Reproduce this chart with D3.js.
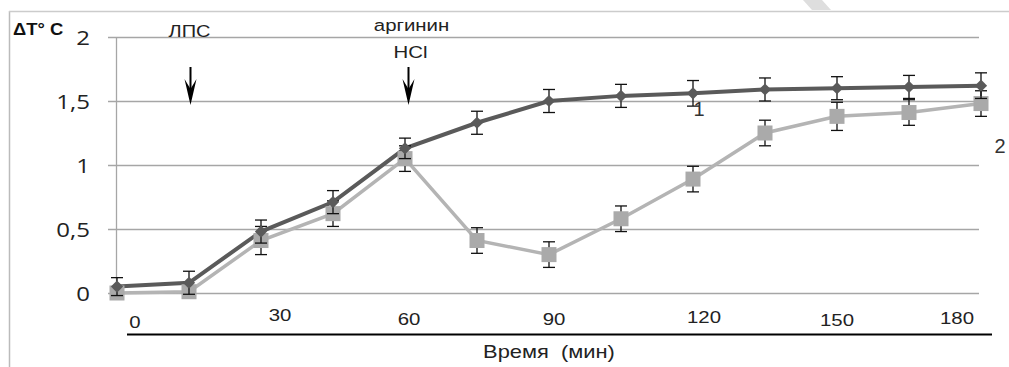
<!DOCTYPE html>
<html><head><meta charset="utf-8">
<script src="https://cdn.jsdelivr.net/npm/d3@7"></script>
<style>body{margin:0;background:#fff}svg{display:block}</style>
</head><body><svg id="c" width="1009" height="367"></svg>
<script>
const times = [0,15,30,45,60,75,90,105,120,135,150,165,180];
const series1 = [0.05,0.08,0.48,0.71,1.13,1.33,1.50,1.54,1.56,1.59,1.60,1.61,1.62];
const err1 =    [0.07,0.09,0.09,0.09,0.08,0.09,0.09,0.09,0.10,0.09,0.09,0.09,0.10];
const series2 = [0.00,0.01,0.41,0.62,1.05,0.41,0.30,0.58,0.89,1.25,1.38,1.41,1.48];
const err2 =    [0.00,0.00,0.11,0.10,0.10,0.10,0.10,0.10,0.10,0.10,0.11,0.10,0.10];
const yTicks = [0,0.5,1,1.5,2];
const yTickLabels = ["0","0,5","1","1,5","2"];
const xTickValues = [0,30,60,90,120,150,180];
const xTickLabels = ["0","30","60","90","120","150","180"];
const eventTimes = [15,60];
const eventLabels = [["ЛПС"],["аргинин","HCl"]];

const SX = 1.2; // horizontal stretch of the original picture's text
const FONT = "Liberation Sans, Arial, sans-serif";
const svg = d3.select("#c");
const x = d3.scaleLinear().domain([0,180]).range([117,981]);
const y = d3.scaleLinear().domain([0,2]).range([293,37]);

function sText(parent, px, py, txt, opts={}){
  const g = parent.append("g").attr("transform",`translate(${px},${py}) scale(${opts.sx||SX},1)`);
  return g.append("text").attr("x",0).attr("y",0)
    .attr("text-anchor",opts.anchor||"middle")
    .attr("font-family",opts.family||FONT)
    .attr("font-size",opts.size||18)
    .attr("font-weight",opts.weight||"normal")
    .attr("fill",opts.fill||"#222")
    .attr("xml:space","preserve")
    .text(txt);
}

// frame
svg.append("line").attr("x1",9.5).attr("x2",9.5).attr("y1",11).attr("y2",367).attr("stroke","#bbb").attr("stroke-width",1.5);
svg.append("line").attr("x1",9).attr("x2",1009).attr("y1",11.5).attr("y2",11.5).attr("stroke","#ccc").attr("stroke-width",1.5);
// faint watermark stroke
svg.append("path").attr("d","M803,0 L822,0 L831,10 L812,10 Z").attr("fill","#dedede");

// grid
const yAxis = d3.axisLeft(y).tickValues(yTicks).tickSize(-(979-116)).tickFormat(()=> "");
const gy = svg.append("g").attr("transform","translate(116,0)").call(yAxis);
gy.select(".domain").remove();
gy.selectAll(".tick text").remove();
gy.selectAll(".tick line").attr("stroke","#a6a6a6").attr("stroke-width",1.3).attr("x1",-8);
svg.append("line").attr("x1",116.5).attr("x2",116.5).attr("y1",y(2)).attr("y2",y(0)).attr("stroke","#a6a6a6").attr("stroke-width",1.3);
const gyl = svg.append("g");
yTicks.forEach((t,i)=>{
  sText(gyl, 90, y(t)+8, yTickLabels[i], {anchor:"end", family:"Open Sans, sans-serif", size:20, fill:"#222"});
});

// x labels
const nudgeX = [18,19,4,5,11,0,-24];
const nudgeY = [35,28,32,32,30,33,31];
const gxl = svg.append("g");
xTickValues.forEach((t,i)=>{
  sText(gxl, x(t)+nudgeX[i], y(0)+nudgeY[i], xTickLabels[i], {size:17});
});
svg.append("line").attr("x1",127).attr("x2",992).attr("y1",334.5).attr("y2",334.5).attr("stroke","#000").attr("stroke-width",2);
sText(svg, 549, 358, "Время  (мин)", {size:17.5, sx:1.25});

// y title
sText(svg, 13, 35, "ΔT° C", {anchor:"start", size:16, weight:"bold", fill:"#111", sx:1.15});

// lines
const line = d3.line().x((d,i)=>x(times[i])).y(d=>y(d));
svg.append("path").attr("d",line(series2)).attr("fill","none").attr("stroke","#b4b4b4").attr("stroke-width",3.5);
svg.append("path").attr("d",line(series1)).attr("fill","none").attr("stroke","#5a5a5a").attr("stroke-width",4);

// error bars
function errBars(vals, errs){
  const g = svg.append("g").attr("stroke","#111").attr("stroke-width",1.3);
  vals.forEach((v,i)=>{
    if(!errs[i]) return;
    const cx = x(times[i]);
    g.append("line").attr("x1",cx).attr("x2",cx).attr("y1",y(v+errs[i])).attr("y2",y(v-errs[i]));
    g.append("line").attr("x1",cx-6).attr("x2",cx+6).attr("y1",y(v+errs[i])).attr("y2",y(v+errs[i]));
    g.append("line").attr("x1",cx-6).attr("x2",cx+6).attr("y1",y(v-errs[i])).attr("y2",y(v-errs[i]));
  });
}
errBars(series2, err2);
svg.append("g").selectAll("rect").data(series2).join("rect")
  .attr("x",(d,i)=>x(times[i])-7.5).attr("y",d=>y(d)-7.5).attr("width",15).attr("height",15).attr("fill","#aaaaaa");
errBars(series1, err1);
svg.append("g").selectAll("path").data(series1).join("path")
  .attr("d",d3.symbol().type(d3.symbolDiamond2).size(95))
  .attr("transform",(d,i)=>`translate(${x(times[i])},${y(d)})`).attr("fill","#5a5a5a");

// series labels
sText(svg, 699, 116, "1", {size:20, fill:"#333", sx:1.0});
sText(svg, 1000, 153, "2", {size:20, fill:"#333", sx:1.0});

// event annotations
eventTimes.forEach((t,k)=>{
  const cx = Math.round(x(t)) + (k===1?3:1) + 0.5;
  const labs = eventLabels[k];
  if(labs.length===1){
    sText(svg, cx-1, 37, labs[0], {size:16, sx:1.25});
  } else {
    sText(svg, cx+3, 31, labs[0], {size:17, sx:1.2});
    sText(svg, cx+2, 58, labs[1], {size:17, sx:1.2});
  }
  svg.append("line").attr("x1",cx).attr("x2",cx).attr("y1",67).attr("y2",95).attr("stroke","#000").attr("stroke-width",2);
  svg.append("path").attr("d",`M${cx-6},79 L${cx},105 L${cx+6},79 L${cx},89 Z`).attr("fill","#000");
});
</script></body></html>
